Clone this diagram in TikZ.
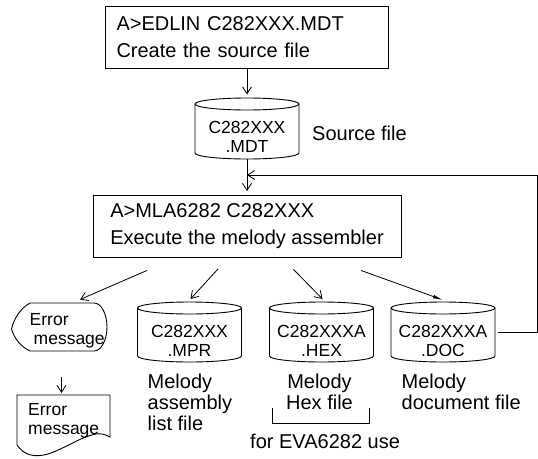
\documentclass[tikz,border=0pt]{standalone}
\usepackage{fontspec}
\setmainfont{Liberation Sans}
\usetikzlibrary{arrows.meta,calc}

\tikzset{
  outline/.style={line width=0.9pt},
  cmdbox/.style={draw, outline, minimum height=62pt, inner ysep=0pt, align=left,
    font=\fontsize{20pt}{27pt}\selectfont},
  frame/.style={inner sep=0pt, outer sep=0pt},
  cyltext/.style={inner sep=0pt, align=center, anchor=north,
    font=\fontsize{17.5pt}{19pt}\selectfont},
  errtext/.style={inner sep=0pt, align=left, anchor=north west,
    font=\fontsize{17.5pt}{19pt}\selectfont},
  lbl/.style={inner sep=0pt, font=\fontsize{20pt}{21pt}\selectfont},
  arr/.style={line width=0.8pt, -{Straight Barb[length=7pt,width=9pt]}},
  docarr/.style={line width=0.8pt, -{Latex[length=10pt,width=3.5pt]}},
}

% disk-file drum drawn around an empty frame node
\newcommand\drumoutline[1]{%
  \draw[outline] ([yshift=-6pt]#1.north) ellipse [x radius=52pt, y radius=6pt];
  \draw[outline] ([yshift=-6pt]#1.north west) -- ([yshift=6pt]#1.south west)
    arc [start angle=180, end angle=360, x radius=52pt, y radius=6pt]
    -- ([yshift=-6pt]#1.north east);}

\begin{document}
\begin{tikzpicture}[x=1pt, y=-1pt]
\useasboundingbox (0,0) rectangle (538,458);

% editor step
\node[cmdbox, text width=261pt, inner xsep=11pt] (edit) at (247,37)
  {A>EDLIN C282XXX.MDT\\Create the source file};

% source file
\node[frame, minimum width=104pt, minimum height=61pt] (src) at (247,128.5) {};
\drumoutline{src}
\node[cyltext] (srct) at (247,121.4) {C282XXX\\.MDT};
\node[lbl, anchor=base west] (srclbl) at (312,140) {Source file};

% assembler step
\node[cmdbox, minimum width=308pt, inner xsep=0pt] (asm) at (247,226)
  {A>MLA6282 C282XXX\\Execute the melody assembler};

% output files
\node[frame, minimum width=104pt, minimum height=60pt] (mpr) at (189.5,332) {};
\node[frame, minimum width=104pt, minimum height=60pt] (hex) at (321.5,332) {};
\node[frame, minimum width=104pt, minimum height=60pt] (doc) at (443,332) {};
\drumoutline{mpr}
\drumoutline{hex}
\drumoutline{doc}
\node[cyltext] (mprt) at (189.5,325.4) {C282XXX\\.MPR};
\node[cyltext] (hext) at (321.5,325.4) {C282XXXA\\.HEX};
\node[cyltext] (doct) at (443,325.4) {C282XXXA\\.DOC};

\node[lbl, align=left, anchor=north west] (mprlbl) at (147.5,373.7)
  {Melody\\assembly\\list file};
\node[lbl, align=center, anchor=north] (hexlbl) at (319.5,373.7)
  {Melody\\Hex file};
\node[lbl, align=left, anchor=north west] (doclbl) at (401.5,373.7)
  {Melody\\document file};
\draw[line width=0.8pt] (272,408) -- (272,423.5) -- (369.5,423.5) -- (369.5,408);
\node[lbl, anchor=base west] (evalbl) at (250,448) {for EVA6282 use};

% error display
\node[frame, minimum width=96pt, minimum height=48pt] (err) at (59,327) {};
\draw[outline] (30,303) -- (94,303)
  arc [start angle=90, end angle=-90, x radius=13pt, y radius=24pt]
  -- (30,351) .. controls (21,347) and (14,338) .. (11.5,329)
  .. controls (14,318) and (21,308) .. (30,303) -- cycle;
\node[errtext] (errt) at (29.5,313.4) {Error\\\hspace*{4pt}message};

% error printout
\node[frame, minimum width=93pt, minimum height=50pt] (edoc) at (63.5,420) {};
\draw[outline] (17,395) -- (110,395) -- (110,437)
  .. controls (106,435) and (102,433) .. (96,434)
  .. controls (80,437) and (64,449) .. (48,454)
  .. controls (34,458) and (24,455) .. (17,445) -- cycle;
\node[errtext] (edoct) at (28,403.4) {Error\\message};

% flow
\coordinate (rail) at (537,175);
\draw[arr, shorten >=3.5pt] (edit) -- (src);
\draw[arr, shorten >=3.5pt] (src) -- (asm);
\draw[arr] ([xshift=3pt]doc.east) -- (doc.east -| rail) -- (rail) -- (src.south |- rail);
\draw[arr] ($(asm.south)+(-100,13)$) -- ($(err.north)+(21,-3.5)$);
\draw[arr] ($(asm.south)+(-29,11.5)$) -- ($(mpr.north)+(1,-3)$);
\draw[arr] ($(asm.south)+(46.5,12)$) -- ($(hex.north)+(1,-3)$);
\draw[docarr] ($(asm.south)+(114,13)$) -- ($(doc.north)+(0,-2)$);
\draw[arr] ($(err.south)+(2.5,26)$) -- ($(edoc.north)+(-2,-2)$);
\end{tikzpicture}
\end{document}
